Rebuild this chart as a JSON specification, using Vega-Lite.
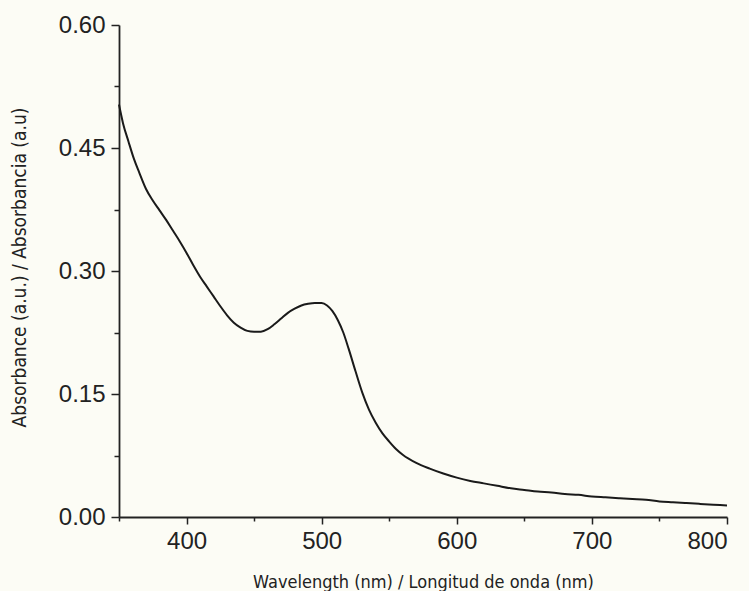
{
  "$schema": "https://vega.github.io/schema/vega-lite/v6.json",
  "width": 608,
  "height": 492,
  "autosize": {"type": "none"},
  "padding": {"left": 119, "top": 25, "right": 22, "bottom": 74},
  "background": "#fcfcf5",
  "config": {"view": {"stroke": null}},
  "data": {"values": [
    {"wl": 350, "abs": 0.503}, {"wl": 353, "abs": 0.480}, {"wl": 357, "abs": 0.458}, {"wl": 361, "abs": 0.437},
    {"wl": 365, "abs": 0.420}, {"wl": 370, "abs": 0.400}, {"wl": 375, "abs": 0.386}, {"wl": 380, "abs": 0.374},
    {"wl": 385, "abs": 0.362}, {"wl": 390, "abs": 0.349}, {"wl": 395, "abs": 0.336}, {"wl": 400, "abs": 0.322},
    {"wl": 405, "abs": 0.307}, {"wl": 410, "abs": 0.293}, {"wl": 415, "abs": 0.281}, {"wl": 420, "abs": 0.269},
    {"wl": 425, "abs": 0.257}, {"wl": 430, "abs": 0.246}, {"wl": 435, "abs": 0.237}, {"wl": 440, "abs": 0.231},
    {"wl": 445, "abs": 0.227}, {"wl": 450, "abs": 0.226}, {"wl": 455, "abs": 0.226}, {"wl": 460, "abs": 0.229},
    {"wl": 465, "abs": 0.235}, {"wl": 470, "abs": 0.242}, {"wl": 475, "abs": 0.249}, {"wl": 480, "abs": 0.254},
    {"wl": 485, "abs": 0.258}, {"wl": 490, "abs": 0.260}, {"wl": 495, "abs": 0.261}, {"wl": 500, "abs": 0.261},
    {"wl": 504, "abs": 0.258}, {"wl": 508, "abs": 0.251}, {"wl": 512, "abs": 0.240}, {"wl": 516, "abs": 0.225},
    {"wl": 520, "abs": 0.205}, {"wl": 525, "abs": 0.178}, {"wl": 530, "abs": 0.152}, {"wl": 535, "abs": 0.131},
    {"wl": 540, "abs": 0.115}, {"wl": 545, "abs": 0.102}, {"wl": 550, "abs": 0.092}, {"wl": 555, "abs": 0.083},
    {"wl": 560, "abs": 0.076}, {"wl": 570, "abs": 0.066}, {"wl": 580, "abs": 0.059}, {"wl": 590, "abs": 0.053},
    {"wl": 600, "abs": 0.048}, {"wl": 610, "abs": 0.044}, {"wl": 620, "abs": 0.041}, {"wl": 630, "abs": 0.038},
    {"wl": 640, "abs": 0.035}, {"wl": 650, "abs": 0.033}, {"wl": 660, "abs": 0.031}, {"wl": 670, "abs": 0.030},
    {"wl": 680, "abs": 0.028}, {"wl": 690, "abs": 0.027}, {"wl": 700, "abs": 0.025}, {"wl": 710, "abs": 0.024},
    {"wl": 720, "abs": 0.023}, {"wl": 730, "abs": 0.022}, {"wl": 740, "abs": 0.021}, {"wl": 750, "abs": 0.019},
    {"wl": 760, "abs": 0.018}, {"wl": 770, "abs": 0.017}, {"wl": 780, "abs": 0.016}, {"wl": 790, "abs": 0.015},
    {"wl": 800, "abs": 0.014}
  ]},
  "layer": [
    {
      "mark": {"type": "line", "strokeOpacity": 0},
      "encoding": {
        "x": {"field": "wl", "type": "quantitative", "scale": {"domain": [350, 800], "nice": false, "zero": false},
          "axis": {"orient": "bottom", "values": [350, 450, 550, 650, 750], "labels": false, "domain": false, "grid": false,
            "tickSize": 4, "tickWidth": 1.5, "tickColor": "#222222", "title": null}},
        "y": {"field": "abs", "type": "quantitative", "scale": {"domain": [0, 0.6], "nice": false},
          "axis": {"orient": "left", "values": [0.075, 0.225, 0.375, 0.525], "labels": false, "domain": false, "grid": false,
            "tickSize": 5, "tickWidth": 1.5, "tickColor": "#222222", "title": null}}
      }
    },
    {
      "mark": {"type": "line", "color": "#1a1a1a", "strokeWidth": 2, "interpolate": "monotone"},
      "encoding": {
        "x": {"field": "wl", "type": "quantitative", "scale": {"domain": [350, 800], "nice": false, "zero": false},
          "axis": {"orient": "bottom", "values": [400, 500, 600, 700, 800], "format": "d", "grid": false,
            "domainColor": "#222222", "domainWidth": 1.8, "tickColor": "#222222", "tickWidth": 1.5, "tickSize": 7,
            "labelFont": "Liberation Sans", "labelFontSize": 24, "labelColor": "#222222", "labelPadding": 5,
            "title": "Wavelength (nm) / Longitud de onda (nm)",
            "titleFont": "Liberation Sans Narrow, DejaVu Sans Condensed", "titleFontSize": 18, "titleFontWeight": "normal",
            "titleColor": "#222222", "titleY": 70, "titleBaseline": "alphabetic"}},
        "y": {"field": "abs", "type": "quantitative", "scale": {"domain": [0, 0.6], "nice": false},
          "axis": {"orient": "left", "values": [0, 0.15, 0.3, 0.45, 0.6], "format": ".2f", "grid": false,
            "domainColor": "#222222", "domainWidth": 1.8, "tickColor": "#222222", "tickWidth": 1.5, "tickSize": 8,
            "labelFont": "Liberation Sans", "labelFontSize": 24, "labelColor": "#222222", "labelPadding": 6,
            "title": "Absorbance (a.u.) / Absorbancia (a.u)",
            "titleFont": "Liberation Sans Narrow, DejaVu Sans Condensed", "titleFontSize": 19, "titleFontWeight": "normal",
            "titleColor": "#222222", "titleX": -94, "titleY": 242, "titleAngle": 270, "titleAlign": "center", "titleBaseline": "alphabetic"}}
      }
    }
  ],
  "resolve": {"axis": {"x": "independent", "y": "independent"}}
}
